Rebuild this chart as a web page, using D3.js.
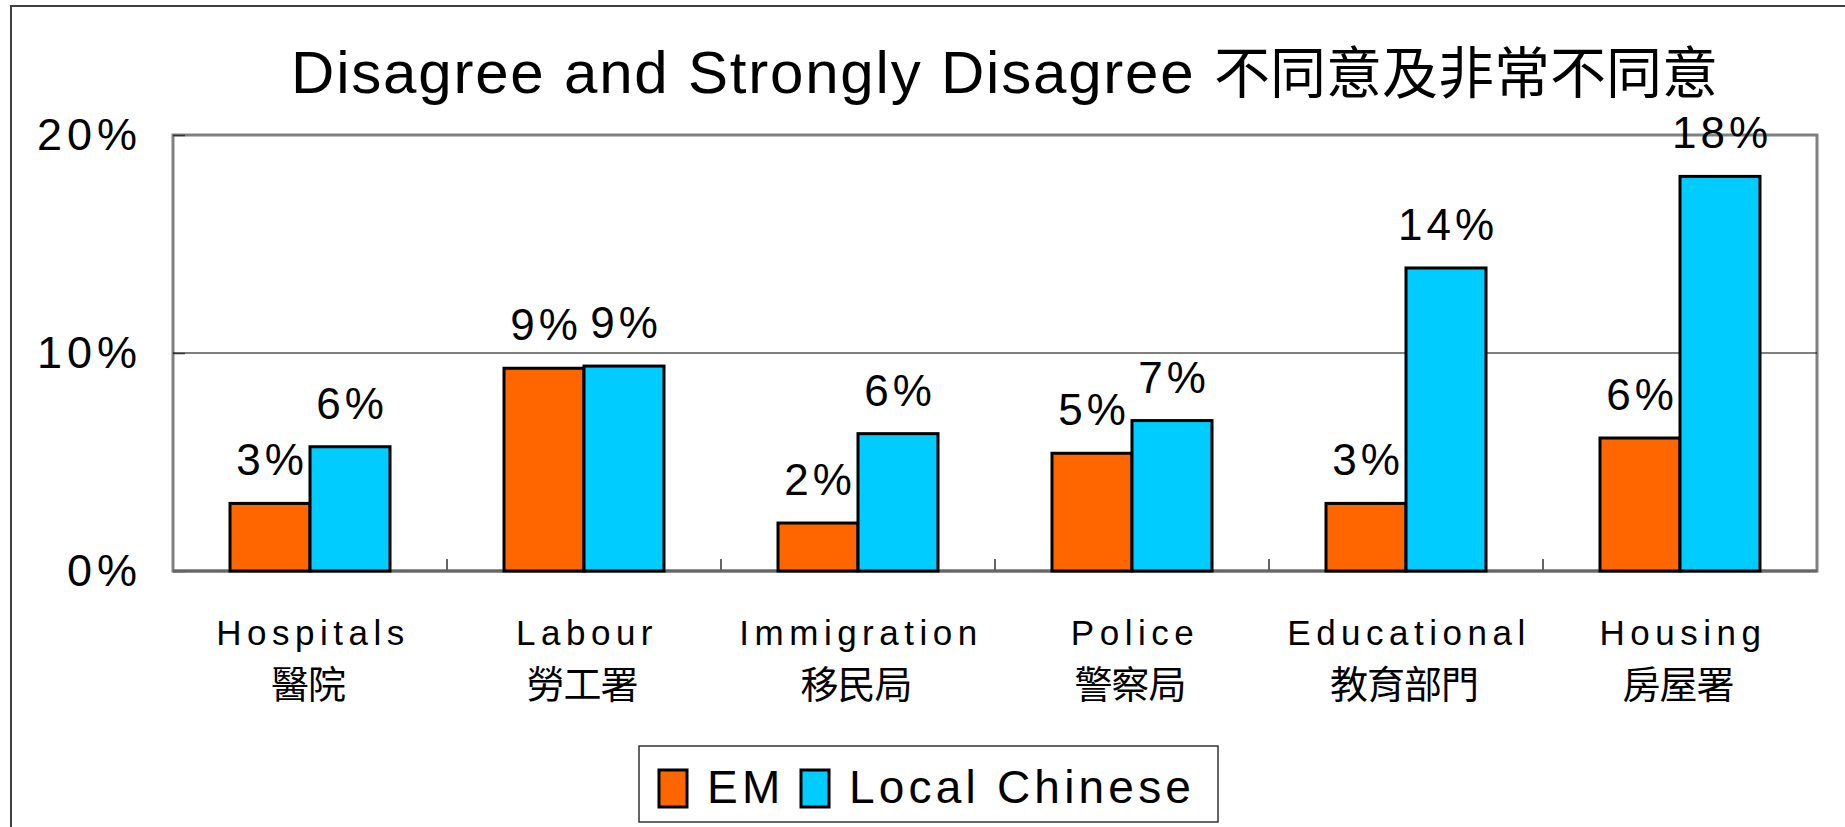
<!DOCTYPE html>
<html>
<head>
<meta charset="utf-8">
<script src="https://cdnjs.cloudflare.com/ajax/libs/d3/7.8.5/d3.min.js"></script>
<style>
  html, body { margin: 0; padding: 0; background: #fff; overflow: hidden; }
  #viz { width: 1845px; height: 827px; }
  text { font-family: "Liberation Sans", Arial, sans-serif; fill: #000; }
  .cjk { font-family: "Noto Sans CJK TC", "Noto Sans CJK SC", sans-serif; }
</style>
</head>
<body>
<div id="viz"></div>
<script>
//Datos
const categoriesEn = ['Hospitals', 'Labour', 'Immigration', 'Police', 'Educational', 'Housing'];
const categoriesZh = ['醫院', '勞工署', '移民局', '警察局', '教育部門', '房屋署'];
const seriesNames = ['EM', 'Local Chinese'];
const emValues = [0.031, 0.093, 0.022, 0.054, 0.031, 0.061];
const localValues = [0.057, 0.094, 0.063, 0.069, 0.139, 0.181];
const yTicks = [0, 0.1, 0.2];

//Colores fijos
const COLOR_EM = '#FF6600',
COLOR_LOCAL = '#00CCFF';

let data = categoriesEn.map(function(c, i) {
    return { cat: c, zh: categoriesZh[i], values: [emValues[i], localValues[i]] };
});

let width = 1845, height = 827;
let plot = { left: 173, right: 1817, top: 135, bottom: 571 };

let svg = d3.select('#viz')
    .append('svg')
        .attr('width', width)
        .attr('height', height);

//Marco exterior
svg.append('rect')
    .attr('x', 11).attr('y', 6)
    .attr('width', 2000).attr('height', 1000)
    .attr('fill', '#fff')
    .attr('stroke', '#404040')
    .attr('stroke-width', 2);

//Título
let title = svg.append('text')
    .attr('x', 291)
    .attr('y', 93)
    .style('font-size', '60px')
    .style('letter-spacing', '1.8px');
title.append('tspan').text('Disagree and Strongly Disagree ');
title.append('tspan')
    .attr('class', 'cjk')
    .style('font-size', '56px')
    .style('letter-spacing', '0px')
    .text('不同意及非常不同意');

let x0 = d3.scaleBand()
    .domain(categoriesEn)
    .range([plot.left, plot.right])
    .padding(0);

let groupW = 160;
let x1 = d3.scaleBand()
    .domain(seriesNames)
    .range([(x0.bandwidth() - groupW) / 2, (x0.bandwidth() + groupW) / 2]);

let y = d3.scaleLinear()
    .domain([0, 0.2])
    .range([plot.bottom, plot.top]);

let color = d3.scaleOrdinal()
    .domain(seriesNames)
    .range([COLOR_EM, COLOR_LOCAL]);

//Área del gráfico
svg.append('rect')
    .attr('x', plot.left).attr('y', plot.top)
    .attr('width', plot.right - plot.left)
    .attr('height', plot.bottom - plot.top)
    .attr('fill', '#fff')
    .attr('stroke', '#808080')
    .attr('stroke-width', 3);

//Líneas de cuadrícula
svg.append('g')
    .selectAll('line')
    .data(yTicks.filter(function(d) { return d > 0 && d < 0.2; }))
    .enter()
    .append('line')
    .attr('x1', plot.left).attr('x2', plot.right)
    .attr('y1', function(d) { return y(d); })
    .attr('y2', function(d) { return y(d); })
    .attr('stroke', '#000')
    .attr('stroke-width', 1);

//Eje Y
let yAxis = svg.append('g')
    .attr('transform', 'translate(' + plot.left + ',0)')
    .call(d3.axisLeft(y).tickValues(yTicks).tickFormat(d3.format('.0%')).tickSize(-12).tickPadding(36));
yAxis.select('.domain').remove();
yAxis.selectAll('.tick line').attr('stroke', '#333').attr('stroke-width', 1.5);
yAxis.selectAll('.tick text')
    .style('font-family', '"Liberation Sans", Arial, sans-serif')
    .style('font-size', '45px')
    .style('letter-spacing', '5px')
    .attr('dx', '5')
    .attr('fill', '#000');

//Marcas de categoría
svg.append('g')
    .selectAll('line')
    .data(categoriesEn.slice(1))
    .enter()
    .append('line')
    .attr('x1', function(d) { return x0(d); })
    .attr('x2', function(d) { return x0(d); })
    .attr('y1', plot.bottom)
    .attr('y2', plot.bottom - 12)
    .attr('stroke', '#333')
    .attr('stroke-width', 1.5);

//Eje X inferior
svg.append('line')
    .attr('x1', plot.left).attr('x2', plot.right)
    .attr('y1', plot.bottom).attr('y2', plot.bottom)
    .attr('stroke', '#666')
    .attr('stroke-width', 3);

//Barras
let groups = svg.append('g')
    .selectAll('g')
    .data(data)
    .enter()
    .append('g')
    .attr('transform', function(d) { return 'translate(' + x0(d.cat) + ',0)'; });

groups.selectAll('rect')
    .data(function(d) { return seriesNames.map(function(k, i) { return { key: k, value: d.values[i] }; }); })
    .enter()
    .append('rect')
    .attr('x', function(d) { return x1(d.key); })
    .attr('y', function(d) { return y(d.value); })
    .attr('width', x1.bandwidth())
    .attr('height', function(d) { return y(0) - y(d.value); })
    .attr('fill', function(d) { return color(d.key); })
    .attr('stroke', '#000')
    .attr('stroke-width', 3);

//Etiquetas de datos
groups.selectAll('text.lbl')
    .data(function(d) { return seriesNames.map(function(k, i) { return { key: k, value: d.values[i] }; }); })
    .enter()
    .append('text')
    .attr('class', 'lbl')
    .attr('x', function(d) { return x1(d.key) + x1.bandwidth() / 2 + 2; })
    .attr('y', function(d) { return y(d.value) - 28; })
    .attr('text-anchor', 'middle')
    .style('font-size', '44px')
    .style('letter-spacing', '4px')
    .text(function(d) { return Math.round(d.value * 100) + '%'; });

//Etiquetas de categoría
let catLabels = svg.append('g')
    .selectAll('g')
    .data(data)
    .enter()
    .append('g')
    .attr('transform', function(d) { return 'translate(' + (x0(d.cat) + x0.bandwidth() / 2) + ',0)'; });

catLabels.append('text')
    .attr('y', 645)
    .attr('x', 3)
    .attr('text-anchor', 'middle')
    .style('font-size', '35px')
    .style('letter-spacing', '5.5px')
    .text(function(d) { return d.cat; });

catLabels.append('text')
    .attr('class', 'cjk')
    .attr('y', 698)
    .attr('x', -2)
    .attr('text-anchor', 'middle')
    .style('font-size', '38px')
    .style('letter-spacing', '-1px')
    .text(function(d) { return d.zh; });

//Leyenda
let legend = svg.append('g');
legend.append('rect')
    .attr('x', 639).attr('y', 746)
    .attr('width', 1218 - 639).attr('height', 822 - 746)
    .attr('fill', '#fff')
    .attr('stroke', '#333')
    .attr('stroke-width', 1.5);

let legendX = [659, 801];
let legendTextX = [707, 849];
seriesNames.forEach(function(s, i) {
    legend.append('rect')
        .attr('x', legendX[i]).attr('y', 770)
        .attr('width', 28).attr('height', 37)
        .attr('fill', color(s))
        .attr('stroke', '#000')
        .attr('stroke-width', 3);
    legend.append('text')
        .attr('x', legendTextX[i])
        .attr('y', 803)
        .style('font-size', '46px')
        .style('letter-spacing', '4.2px')
        .text(s);
});
</script>
</body>
</html>
